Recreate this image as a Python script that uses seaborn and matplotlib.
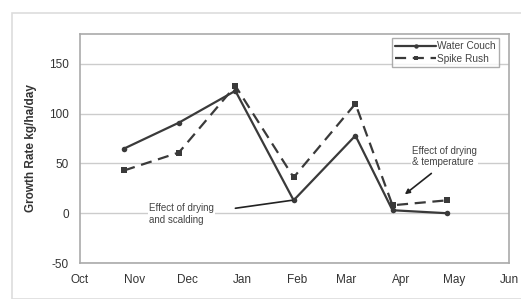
import matplotlib
matplotlib.use("Agg")
import matplotlib.pyplot as plt
import matplotlib.dates as mdates
from matplotlib.patches import Rectangle
import pandas as pd
import seaborn as sns

# sampling dates and growth rates
dates = ["2001-10-26", "2001-11-26", "2001-12-28", "2002-01-30",
         "2002-03-06", "2002-03-27", "2002-04-27"]
water_couch = [65, 91, 123, 13, 78, 3, 0]
spike_rush = [43, 61, 128, 36, 110, 8, 13]
month_ticks = ["2001-10-01", "2001-11-01", "2001-12-01", "2002-01-01", "2002-02-01",
               "2002-03-01", "2002-04-01", "2002-05-01", "2002-06-01"]

df = pd.DataFrame({
    "Date": pd.to_datetime(dates * 2),
    "Rate": water_couch + spike_rush,
    "Species": ["Water Couch"] * len(dates) + ["Spike Rush"] * len(dates),
})

sns.set_style("white")
plt.rcParams['font.family'] = ['Liberation Sans', 'DejaVu Sans']
plt.rcParams['axes.unicode_minus'] = False

fig = plt.figure(figsize=(5.21, 2.99), dpi=100)
ax = fig.add_axes([0.1536, 0.1204, 0.8234, 0.7656])

# light outer frame around the whole chart
fig.patches.append(Rectangle((12 / 521, 0), 1, (299 - 13) / 299, transform=fig.transFigure,
                             fill=False, edgecolor="#dddddd", linewidth=1.2))

sns.lineplot(data=df, x="Date", y="Rate", style="Species", ax=ax,
             color="#3a3a3a", linewidth=1.6,
             markers={"Water Couch": "o", "Spike Rush": "s"},
             dashes={"Water Couch": "", "Spike Rush": (5, 3)},
             markersize=4, markeredgewidth=0)

ax.set_xlim(pd.Timestamp("2001-10-01"), pd.Timestamp("2002-06-01"))
ax.set_ylim(-50, 180)
ax.set_yticks([-50, 0, 50, 100, 150])
ax.set_xticks(pd.to_datetime(month_ticks))
ax.xaxis.set_major_formatter(mdates.DateFormatter("%b"))
ax.tick_params(labelsize=8.5, colors="#333333", length=0, pad=8)
ax.yaxis.grid(True, color="#cccccc", linewidth=1)
ax.set_axisbelow(True)
for s in ax.spines.values():
    s.set_color("#aaaaaa")
    s.set_linewidth(1.2)

ax.set_xlabel("")
ax.set_ylabel("Growth Rate kg/ha/day", fontsize=8.5, fontweight="bold", color="#333333", labelpad=9)

ax.legend(loc="upper right", bbox_to_anchor=(0.977, 0.985), fontsize=7.3, frameon=True,
          fancybox=False, edgecolor="#999999", handlelength=4.0, borderpad=0.35,
          labelspacing=0.25, handletextpad=0.1, labelcolor="#444444", borderaxespad=0,
          markerscale=0.8)

# annotation texts and their pointer lines
box = dict(facecolor="white", edgecolor="none", pad=1)
ax.text(pd.Timestamp("2001-11-09"), -1, "Effect of drying\nand scalding", fontsize=7,
        color="#444444", va="center", ha="left", bbox=box)
ax.annotate("", xy=(pd.Timestamp("2002-01-29"), 13), xytext=(pd.Timestamp("2001-12-28"), 5),
            arrowprops=dict(arrowstyle="-", color="#222222", lw=1.2, shrinkA=0, shrinkB=0))
ax.text(pd.Timestamp("2002-04-07"), 57, "Effect of drying\n& temperature", fontsize=7,
        color="#444444", va="center", ha="left", bbox=box)
ax.annotate("", xy=(pd.Timestamp("2002-04-03"), 19), xytext=(pd.Timestamp("2002-04-18"), 40),
            arrowprops=dict(arrowstyle="-|>", color="#222222", lw=1.2, shrinkA=0, shrinkB=0,
                            mutation_scale=7))

fig.savefig("out.png", dpi=100)
